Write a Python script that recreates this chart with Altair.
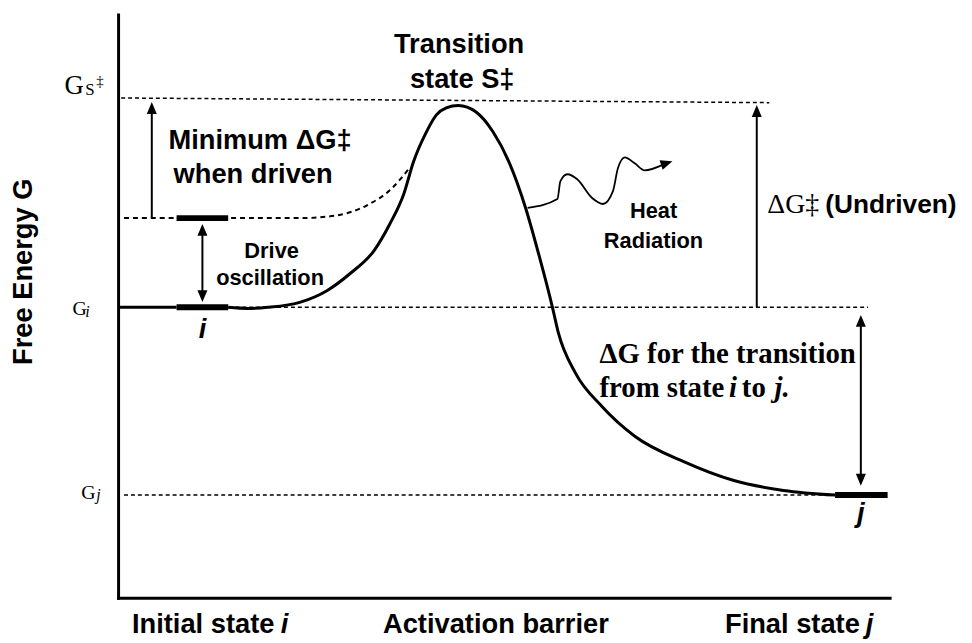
import altair as alt
import pandas as pd

# ---------------- data (reaction coordinate 0-100, free energy 0-100, arbitrary units) -------------
G_S_LEFT, G_S_RIGHT = 85.7, 84.9     # transition-state level (hand-drawn, slightly sloped)
G_DRIVEN = 65.1                      # driven (oscillating) level of state i
G_I = 49.8                           # free energy of state i
G_J = 17.6                           # free energy of state j

# main free-energy profile
curve_x = [14.27, 16.84, 19.41, 23.65, 27.12, 30.08, 33.16, 35.22, 37.02, 38.30, 39.97, 41.26,
           42.54, 44.09, 46.40, 48.59, 50.64, 52.83, 54.50, 56.30, 57.07, 59.25, 62.72, 66.97,
           73.39, 79.82, 86.25, 92.93]
curve_g = [49.8, 49.6, 49.8, 50.7, 52.7, 55.6, 59.5, 64.1, 69.2, 74.8, 79.9, 82.8,
           84.0, 84.4, 83.3, 79.9, 74.8, 66.8, 59.0, 49.8, 45.4, 38.6, 32.8, 27.7,
           23.3, 20.1, 18.4, 17.6]

# dashed profile when driven
driven_x = [0.77, 23.65, 28.02, 32.26, 35.48, 37.66]
driven_g = [65.1, 65.1, 65.5, 67.3, 70.2, 73.5]

# heat-radiation squiggle
wave_x = [53.08, 56.94, 57.33, 58.23, 59.51, 61.44, 62.85, 64.14, 64.78, 65.68, 66.97, 68.25, 70.57]
wave_g = [66.84, 68.37, 71.43, 72.62, 71.77, 68.54, 67.52, 69.73, 73.64, 75.51, 74.49, 73.30, 74.23]
wave_tip = (71.85, 74.83)

# dashed reference levels (x start, x end, g start, g end)
dash_levels = [
    (0.40, 84.40, G_S_LEFT, G_S_RIGHT),
    (14.30, 97.20, G_I, G_I),
    (0.77, 92.93, G_J, G_J),
]
# thick state bars (x start, x end, g)
state_bars = [(7.58, 14.27, G_I), (7.58, 14.27, G_DRIVEN), (92.93, 99.74, G_J)]
lead_in = [(0.0, 7.58, G_I)]

# arrows: shafts (x, g start, g end) and heads (x, g)
shafts = [(4.37, G_DRIVEN, 84.0), (10.93, 51.5, 63.3), (82.78, G_I, 83.5), (96.27, 20.0, 47.6)]
heads_up = [(4.37, 85.0), (10.93, 64.1), (82.78, 84.5), (96.27, 48.5)]
heads_down = [(10.93, 50.7), (96.27, 19.2)]

# annotations: (text, x, g)
BOTTOM = -6.05
sans_big_center = [("Transition", 44.2, 93.5), ("state S‡", 44.6, 87.4),
                   ("Minimum ΔG‡", 18.4, 76.9), ("when driven", 17.5, 71.1),
                   ("Activation barrier", 48.97, BOTTOM)]
sans_big_left = [("Initial state", 1.80, BOTTOM), ("Final state", 78.66, BOTTOM)]
undriven_label = [("(Undriven)", 91.65, 66.0)]
sans_big_italic_center = [("i", 10.93, 44.56), ("j", 96.27, 12.93)]
sans_big_italic_left = [("i", 21.08, BOTTOM), ("j", 96.92, BOTTOM)]
sans_small_center = [("Drive", 19.9, 58.3), ("oscillation", 19.7, 53.6),
                     ("Heat", 69.4, 65.1), ("Radiation", 69.4, 60.0)]
y_title = [("Free Energy G", -11.18, 55.9)]
serif_left = [("ΔG‡", 84.15, 66.0)]
g_labels_big = [("G", -6.94, 86.4)]
g_labels = [("G", -5.91, 48.5), ("G", -4.76, 17.0)]
g_sub = [("S", -4.24, 86.2)]
g_sup = [("‡", -2.83, 87.8)]
g_sub_italic = [("i", -4.24, 48.1), ("j", -2.83, 16.8)]
serif_bold_left = [("ΔG for the transition", 62.40, 40.3), ("from state", 62.40, 34.4),
                   ("to", 80.85, 34.4)]
serif_bold_italic_left = [("i", 79.18, 34.4), ("j.", 85.09, 34.4)]

# ---------------- chart ----------------
SANS = "Liberation Sans"
SERIF = "Liberation Serif"
XS = alt.Scale(domain=[0, 100], nice=False, zero=False)
YS = alt.Scale(domain=[0, 100], nice=False, zero=False)
AX = alt.Axis(title=None, labels=False, ticks=False, grid=False, domainColor="black",
              domainWidth=3, domainCap="square")


def X(f):
    return alt.X(f"{f}:Q", scale=XS, axis=AX)


def Y(f):
    return alt.Y(f"{f}:Q", scale=YS, axis=AX)


layers = []

curve_df = pd.DataFrame({"x": curve_x, "g": curve_g})
layers.append(alt.Chart(curve_df).mark_line(color="black", strokeWidth=3, interpolate="monotone")
              .encode(x=X("x"), y=Y("g")))

driven_df = pd.DataFrame({"x": driven_x, "g": driven_g})
layers.append(alt.Chart(driven_df).mark_line(color="black", strokeWidth=2, strokeDash=[5, 4],
                                             interpolate="monotone")
              .encode(x=X("x"), y=Y("g")))

wave_df = pd.DataFrame({"x": wave_x, "g": wave_g})
layers.append(alt.Chart(wave_df).mark_line(color="black", strokeWidth=1.8, interpolate="monotone")
              .encode(x=X("x"), y=Y("g")))

dash_df = pd.DataFrame(dash_levels, columns=["x", "x2", "g", "g2"])
layers.append(alt.Chart(dash_df).mark_rule(color="black", strokeWidth=1.5, strokeDash=[4, 3])
              .encode(x=X("x"), x2="x2:Q", y=Y("g"), y2="g2:Q"))

lead_df = pd.DataFrame(lead_in, columns=["x", "x2", "g"])
layers.append(alt.Chart(lead_df).mark_rule(color="black", strokeWidth=3)
              .encode(x=X("x"), x2="x2:Q", y=Y("g")))

bars_df = pd.DataFrame(state_bars, columns=["x", "x2", "g"])
layers.append(alt.Chart(bars_df).mark_rule(color="black", strokeWidth=6)
              .encode(x=X("x"), x2="x2:Q", y=Y("g")))

shaft_df = pd.DataFrame(shafts, columns=["x", "g", "g2"])
layers.append(alt.Chart(shaft_df).mark_rule(color="black", strokeWidth=2)
              .encode(x=X("x"), y=Y("g"), y2="g2:Q"))

UP = "M0,0L-0.42,1L0.42,1Z"
DOWN = "M0,0L-0.42,-1L0.42,-1Z"
RIGHT = "M0,0L-1,-0.42L-1,0.42Z"
up_df = pd.DataFrame(heads_up, columns=["x", "g"])
layers.append(alt.Chart(up_df).mark_point(shape=UP, size=576, filled=True, color="black", opacity=1,
                                          strokeWidth=0)
              .encode(x=X("x"), y=Y("g")))
down_df = pd.DataFrame(heads_down, columns=["x", "g"])
layers.append(alt.Chart(down_df).mark_point(shape=DOWN, size=576, filled=True, color="black", opacity=1,
                                            strokeWidth=0)
              .encode(x=X("x"), y=Y("g")))
tip_df = pd.DataFrame([wave_tip], columns=["x", "g"])
layers.append(alt.Chart(tip_df).mark_point(shape=RIGHT, size=576, filled=True, color="black", opacity=1,
                                           strokeWidth=0, angle=342)
              .encode(x=X("x"), y=Y("g")))


def text_layer(rows, font, size, weight="normal", style="normal", align="center", angle=None):
    df = pd.DataFrame(rows, columns=["label", "x", "g"])
    kw = dict(font=font, fontSize=size, fontWeight=weight, fontStyle=style, align=align,
              baseline="alphabetic", color="black")
    if angle is not None:
        kw["angle"] = angle
    return alt.Chart(df).mark_text(**kw).encode(x=X("x"), y=Y("g"), text="label:N")


layers += [
    text_layer(sans_big_center, SANS, 27.5, "bold"),
    text_layer(sans_big_left, SANS, 27.5, "bold", align="left"),
    text_layer(undriven_label, SANS, 26.5, "bold", align="left"),
    text_layer(sans_big_italic_center, SANS, 27.5, "bold", "italic"),
    text_layer(sans_big_italic_left, SANS, 27.5, "bold", "italic", align="left"),
    text_layer(sans_small_center, SANS, 22, "bold"),
    text_layer(y_title, SANS, 27.5, "bold", angle=270),
    text_layer(serif_left, SERIF, 28, align="left"),
    text_layer(g_labels_big, SERIF, 27, align="left"),
    text_layer(g_labels, SERIF, 20, align="left"),
    text_layer(g_sub, SERIF, 17, align="left"),
    text_layer(g_sup, SERIF, 15, align="left"),
    text_layer(g_sub_italic, SERIF, 16, style="italic", align="left"),
    text_layer(serif_bold_left, SERIF, 29, "bold", align="left"),
    text_layer(serif_bold_italic_left, SERIF, 29, "bold", "italic", align="left"),
]

chart = (
    alt.layer(*layers)
    .properties(width=778, height=588, background="white",
                padding={"left": 111, "top": 4, "right": 75, "bottom": 43},
                autosize=alt.AutoSizeParams(type="none"))
    .configure_view(stroke=None)
)

chart.save("out.html", embed_options={"renderer": "svg", "actions": False})
